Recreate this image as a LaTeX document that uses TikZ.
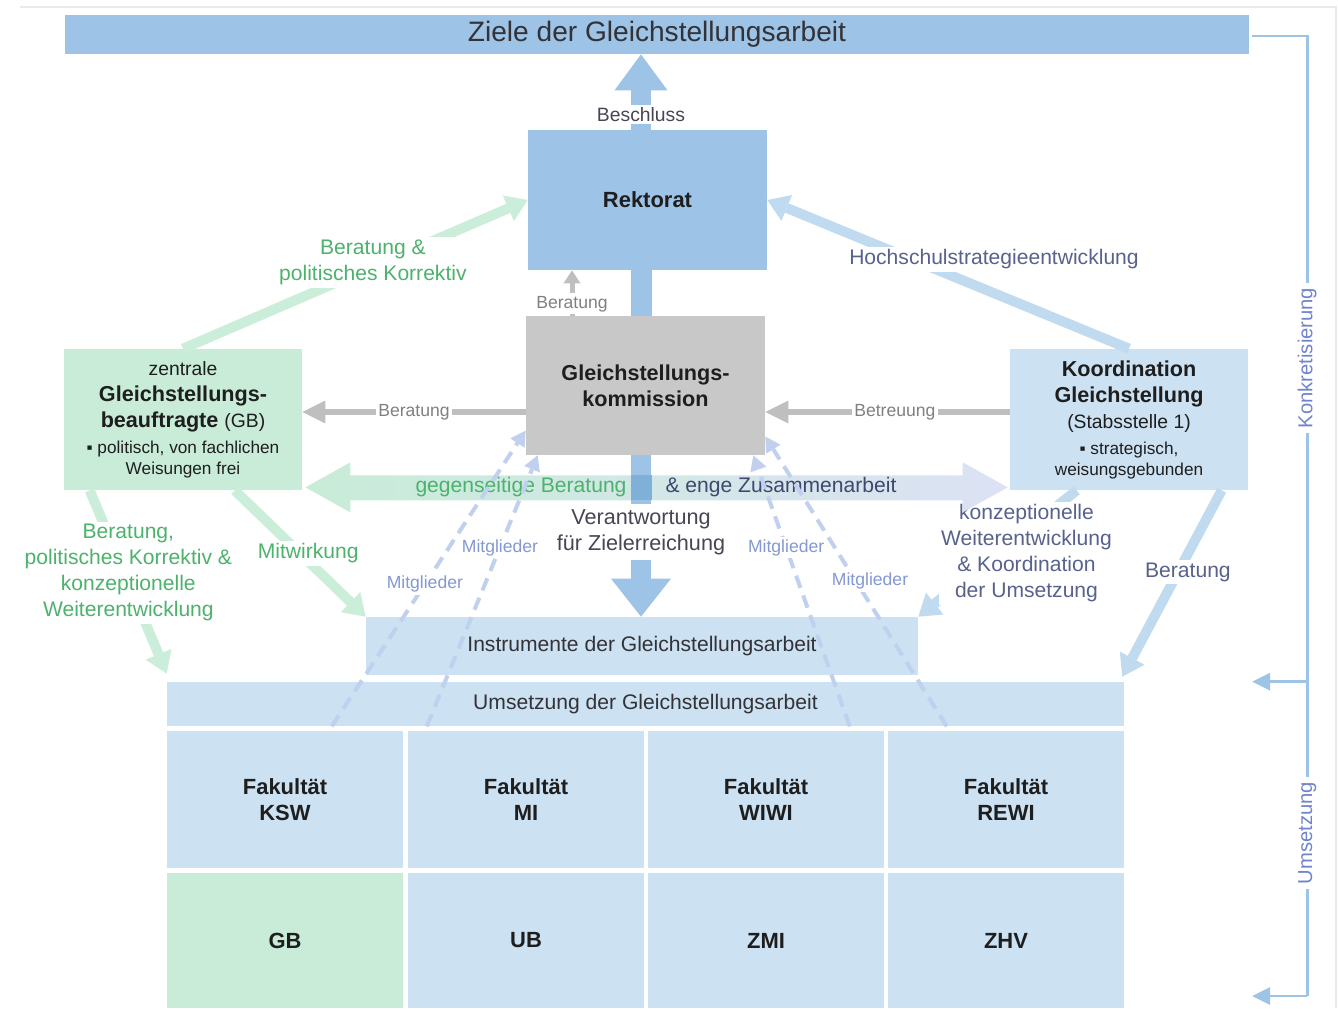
\documentclass[tikz,border=0pt]{standalone}
\usepackage{fontspec}
\setmainfont{Liberation Sans}
\usepackage{xcolor}
\usepackage{tikz}
\usetikzlibrary{shapes}
\usetikzlibrary{arrows.meta}
\usetikzlibrary{calc}
\definecolor{midblue}{RGB}{157,195,230}
\definecolor{deepblue}{RGB}{126,176,216}
\definecolor{paleblue}{RGB}{204,225,242}
\definecolor{palegreen}{RGB}{200,236,216}
\definecolor{boxgray}{RGB}{201,200,201}
\definecolor{linegray}{RGB}{191,191,191}
\definecolor{labelgray}{RGB}{128,128,128}
\definecolor{darktext}{RGB}{30,30,30}
\definecolor{titletext}{RGB}{50,50,55}
\definecolor{softtext}{RGB}{70,70,85}
\definecolor{greentext}{RGB}{76,178,108}
\definecolor{greenline}{RGB}{202,238,218}
\definecolor{blueline}{RGB}{192,218,239}
\definecolor{slatetext}{RGB}{88,98,140}
\definecolor{slatedark}{RGB}{62,72,112}
\definecolor{membertext}{RGB}{132,152,212}
\definecolor{dashblue}{RGB}{192,208,238}
\definecolor{lavender}{RGB}{220,226,244}
\definecolor{sidetext}{RGB}{112,132,206}
\definecolor{framegray}{RGB}{234,234,234}
\tikzset{
	box/.style={rectangle,inner sep=0pt,align=center,text=darktext,font=\fontsize{12.3}{14.8}\selectfont},
	dark box/.style={box,fill=midblue},
	pale box/.style={box,fill=paleblue},
	green box/.style={box,fill=palegreen},
	gray box/.style={box,fill=boxgray},
	cell/.style={box,fill=paleblue,minimum width=4.72cm,font=\bfseries\fontsize{12.5}{14.8}\selectfont},
	note/.style={fill=white,inner sep=1.5pt,align=center,font=\fontsize{12}{14.8}\selectfont},
	small note/.style={note,font=\fontsize{10}{12}\selectfont},
	side note/.style={note,inner sep=3pt,text=sidetext,font=\fontsize{11.5}{14}\selectfont},
	block arrow/.style={draw=midblue,line width=0.4cm,-{Triangle[length=0.72cm,width=1.06cm,line width=0pt]}},
	bar/.style={draw=midblue,line width=0.42cm},
	gray arrow/.style={draw=linegray,line width=0.13cm,-{Triangle[length=0.46cm,width=0.46cm,line width=0pt]}},
	green arrow/.style={draw=greenline,line width=0.2cm,-{Triangle[length=0.42cm,width=0.56cm,line width=0pt]}},
	blue arrow/.style={draw=blueline,line width=0.2cm,-{Triangle[length=0.42cm,width=0.56cm,line width=0pt]}},
	member line/.style={draw=dashblue,line width=0.08cm,dash pattern=on 0.26cm off 0.16cm,-{Triangle[length=0.3cm,width=0.34cm,line width=0pt]}},
	side line/.style={draw=midblue,line width=0.05cm},
	side arrow/.style={side line,-{Triangle[length=0.36cm,width=0.36cm,line width=0pt]}}
}

\begin{document}
\begin{tikzpicture}[x=0.02cm,y=-0.02cm]
	\useasboundingbox (0,0) rectangle (1338,1008);
	\draw[framegray,line width=0.04cm] (20,7) -- (1336,7) -- (1336,1008);
	% boxes
	\node[dark box,minimum width=23.68cm,minimum height=0.78cm,text=titletext,font=\fontsize{16}{19}\selectfont] (1) at (657,34.5) {Ziele der Gleichstellungsarbeit};
	\node[dark box,minimum width=4.78cm,minimum height=2.8cm,font=\bfseries\fontsize{12.5}{15}\selectfont] (2) at (647.5,200) {Rektorat};
	\node[gray box,minimum width=4.78cm,minimum height=2.78cm,font=\bfseries\fontsize{12.3}{14.8}\selectfont] (3) at (645.5,385.5) {Gleichstellungs-\\kommission};
	\node[green box,minimum width=4.76cm,minimum height=2.82cm] (4) at (183,419.5) {{\fontsize{11}{14}\selectfont zentrale}\\\textbf{Gleichstellungs-}\\\textbf{beauftragte} {\fontsize{11}{14}\selectfont(GB)}\\{\fontsize{9.8}{12}\selectfont ▪ politisch, von fachlichen}\\[-2.8pt]{\fontsize{9.8}{12}\selectfont Weisungen frei}};
	\node[pale box,minimum width=4.76cm,minimum height=2.82cm] (5) at (1129,419.5) {\textbf{Koordination}\\\textbf{Gleichstellung}\\{\fontsize{11}{14}\selectfont(Stabsstelle 1)}\\{\fontsize{9.8}{12}\selectfont ▪ strategisch,}\\[-2.8pt]{\fontsize{9.8}{12}\selectfont weisungsgebunden}};
	\node[pale box,minimum width=11.04cm,minimum height=1.16cm,text=titletext,font=\fontsize{12}{14}\selectfont] (6) at (642,646) {Instrumente der Gleichstellungsarbeit};
	\node[pale box,minimum width=19.14cm,minimum height=0.88cm,text=titletext,font=\fontsize{12}{14}\selectfont] (7) at (645.5,704) {Umsetzung der Gleichstellungsarbeit};
	\node[cell,minimum height=2.74cm] (8) at (285,799.5) {Fakultät\\KSW};
	\node[cell,minimum height=2.74cm] (9) at (526,799.5) {Fakultät\\MI};
	\node[cell,minimum height=2.74cm] (10) at (766,799.5) {Fakultät\\WIWI};
	\node[cell,minimum height=2.74cm] (11) at (1006,799.5) {Fakultät\\REWI};
	\node[cell,fill=palegreen,minimum height=2.7cm] (12) at (285,940.5) {GB};
	\node[cell,minimum height=2.7cm] (13) at (526,940.5) {UB};
	\node[cell,minimum height=2.7cm] (14) at (766,940.5) {\raisebox{-0.06cm}{ZMI}};
	\node[cell,minimum height=2.7cm] (15) at (1006,940.5) {ZHV};
	\coordinate (18) at (641,0);
	\coordinate (19) at (572,0);
	\coordinate (20) at (0,412);
	% slanted arrows
	\draw[green arrow] (4.north) -- (2.west) node[pos=0.58,xshift=-0.2cm,note,text=greentext] (40) {Beratung \&\\politisches Korrektiv};
	\draw[green arrow] ($(4.south west)+(26,0)$) -- ($(7.north west)+(0,-8)$) node[pos=0.45,xshift=0.08cm,note,text=greentext] (41) {Beratung,\\politisches Korrektiv \&\\konzeptionelle\\Weiterentwicklung};
	\draw[green arrow] ($(4.south west)+(171,0)$) -- (6.north west) node[pos=0.5,xshift=0.16cm,note,text=greentext] (42) {Mitwirkung};
	\draw[blue arrow] (5.north) -- (2.east) node[pos=0.6,xshift=1.64cm,note,text=slatetext] (43) {Hochschulstrategieentwicklung};
	\draw[blue arrow] ($(5.south west)+(67,0)$) -- (6.north east) node[pos=0.5,xshift=0.58cm,note,text=slatetext] (44) {konzeptionelle\\Weiterentwicklung\\\& Koordination\\der Umsetzung};
	\draw[blue arrow] ($(5.south west)+(212,0)$) -- ($(7.north east)+(-2,-5)$) node[pos=0.44,xshift=0.2cm,note,text=slatetext] (45) {Beratung};
	% gegenseitige Beratung
	\coordinate (21) at ($(4.south east)+(3,-3)$);
	\coordinate (22) at ($(5.south west)+(-2,-3)$);
	\shade[left color=palegreen,middle color=palegreen!60!lavender,right color=lavender] (21) -- ++(45,-25) -- ++(0,13) -- ($(22)+(-45,-12)$) -- ++(0,-13) -- (22) -- ++(-45,25) -- ++(0,-12) -- ($(21)+(45,13)$) -- ++(0,12) -- cycle;
	\node[text=greentext,font=\fontsize{12}{14}\selectfont] (23) at (521,487) {gegenseitige Beratung};
	\node[text=slatedark,font=\fontsize{12}{14}\selectfont] (24) at (781,487) {\& enge Zusammenarbeit};
	% Rektorat and Kommission
	\draw[bar] (3.north -| 18) -- (2.south -| 18);
	\draw[block arrow] (2.north -| 18) -- (1.south -| 18) node[pos=0.2,note,text=softtext,font=\fontsize{11}{13}\selectfont] (46) {Beschluss};
	\draw[block arrow,-{Triangle[length=0.76cm,width=1.2cm,line width=0pt]}] (3.south -| 18) -- (6.north -| 18) node[pos=0.475,note,inner ysep=3pt,text=softtext,font=\fontsize{12.3}{14.8}\selectfont] (47) {Verantwortung\\für Zielerreichung};
	\fill[deepblue] ($(3.south -| 18)+(-10.5,20)$) rectangle ($(3.south -| 18)+(10.5,45)$);
	% Beratung, Betreuung
	\draw[gray arrow,line width=0.1cm,-{Triangle[length=0.26cm,width=0.34cm,line width=0pt]}] (3.north -| 19) -- (2.south -| 19) node[pos=0.26,small note,text=labelgray] (48) {Beratung};
	\draw[gray arrow] (3.west |- 20) -- (4.east |- 20) node[pos=0.5,small note,text=labelgray] (49) {Beratung};
	\draw[gray arrow] (5.west |- 20) -- (3.east |- 20) node[pos=0.47,small note,text=labelgray] (50) {Betreuung};
	% Mitglieder
	\draw[member line] ($(7.south west)+(165,0)$) -- ($(3.west)+(0,45)$) node[pos=0.48,small note,text=membertext] (51) {Mitglieder};
	\draw[member line] ($(7.south west)+(260,0)$) -- ($(3.south west)+(12,0)$) node[pos=0.66,small note,text=membertext] (52) {Mitglieder};
	\draw[member line] ($(7.south west)+(683,0)$) -- ($(3.south east)+(-12,0)$) node[pos=0.66,small note,text=membertext] (53) {Mitglieder};
	\draw[member line] ($(7.south west)+(780,0)$) -- ($(3.east)+(0,51)$) node[pos=0.5,xshift=0.28cm,small note,text=membertext] (54) {Mitglieder};
	% Konkretisierung / Umsetzung
	\coordinate (30) at ($(1.east)+(58,1.5)$);
	\coordinate (31) at (30 |- 7.north);
	\coordinate (32) at ($(30)+(0,960)$);
	\coordinate (33) at ($(31)+(-55,0)$);
	\coordinate (34) at ($(32)+(-55,0)$);
	\draw[side line] ($(1.east)+(3,1.5)$) -- (30) -- (32);
	\draw[side arrow] (31) -- (33);
	\draw[side arrow] (32) -- (34);
	\node[side note,rotate=90] (35) at ($(30)+(0,322)$) {Konkretisierung};
	\node[side note,rotate=90] (36) at ($(30)+(0,797)$) {Umsetzung};
\end{tikzpicture}
\end{document}
